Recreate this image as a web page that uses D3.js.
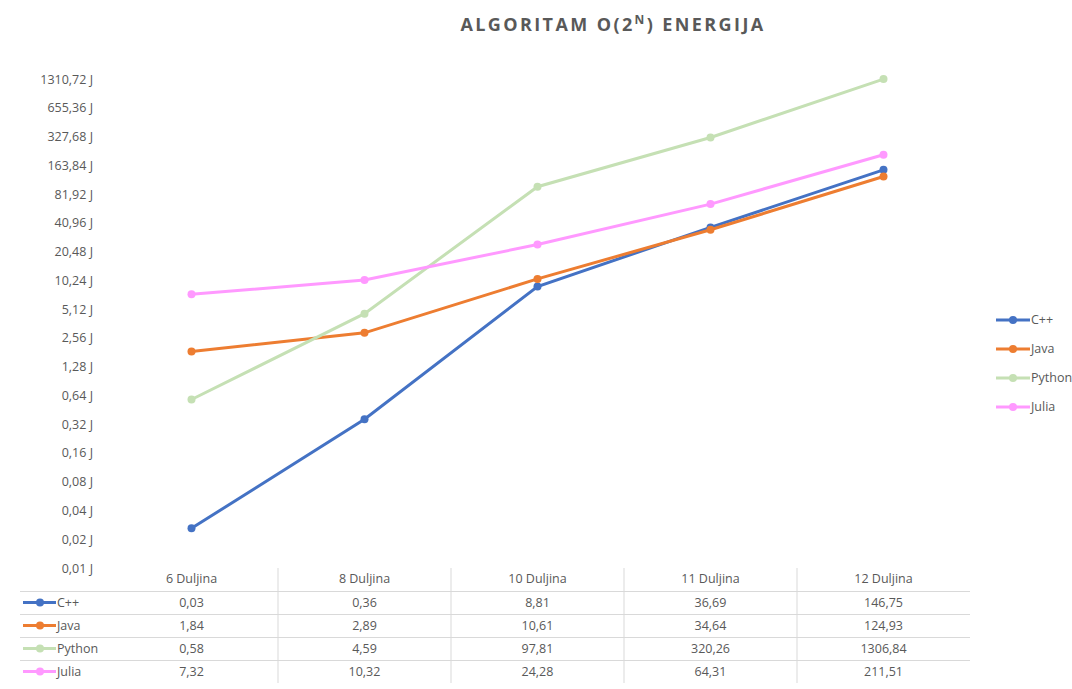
<!DOCTYPE html>
<html>
<head>
<meta charset="utf-8">
<script src="https://cdn.jsdelivr.net/npm/d3@7"></script>
<style>
  body { margin: 0; background: #fff; }
  text { font-family: "Open Sans", sans-serif; fill: #595959; }
</style>
</head>
<body>
<script>
// data
var categories = ["6 Duljina", "8 Duljina", "10 Duljina", "11 Duljina", "12 Duljina"];
var seriesNames = ["C++", "Java", "Python", "Julia"];
var cpp    = [0.026, 0.36, 8.81, 36.69, 146.75];
var java   = [1.84, 2.89, 10.61, 34.64, 124.93];
var python = [0.58, 4.59, 97.81, 320.26, 1306.84];
var julia  = [7.32, 10.32, 24.28, 64.31, 211.51];
var colors = ["#4472C4", "#ED7D31", "#C5E0B4", "#FF99FF"];
var yTicks = [0.01, 0.02, 0.04, 0.08, 0.16, 0.32, 0.64, 1.28, 2.56, 5.12, 10.24,
              20.48, 40.96, 81.92, 163.84, 327.68, 655.36, 1310.72];

var series = seriesNames.map(function(name, i) {
    return {name: name, values: [cpp, java, python, julia][i], color: colors[i]};
});

var width = 1072, height = 689;
var plot = {left: 105, right: 970, top: 79, bottom: 568};

var svg = d3.select("body").append("svg")
    .attr("width", width)
    .attr("height", height);

var fmt = function(v) { return v.toFixed(2).replace(".", ","); };

// title
var title = svg.append("text")
    .attr("x", 613).attr("y", 31)
    .attr("text-anchor", "middle")
    .style("font-size", "18px")
    .style("font-weight", "bold")
    .style("letter-spacing", "2.4px");
title.append("tspan").text("ALGORITAM O(2");
title.append("tspan").text("N").attr("dy", -7).style("font-size", "12px");
title.append("tspan").text(") ENERGIJA").attr("dy", 7);

// scales
var x = d3.scaleBand().domain(categories).range([plot.left, plot.right]);
var y = d3.scaleLog().base(2).domain([0.01, 1310.72]).range([plot.bottom, plot.top]);

// y axis labels
var yAxis = d3.axisLeft(y).tickValues(yTicks)
    .tickFormat(function(d) { return fmt(d) + " J"; })
    .tickSize(0).tickPadding(0);
svg.append("g")
    .attr("transform", "translate(93,0)")
    .call(yAxis)
    .call(function(g) { g.select(".domain").remove(); })
    .selectAll("text")
    .style("font-size", "12.5px")
    .style("font-family", "'Open Sans', sans-serif")
    .attr("fill", "#595959");

// lines
var line = d3.line()
    .x(function(d, i) { return x(categories[i]) + x.bandwidth() / 2; })
    .y(function(d) { return y(d); });

var g = svg.selectAll(".series").data(series).enter().append("g").attr("class", "series");
g.append("path")
    .attr("d", function(d) { return line(d.values); })
    .attr("fill", "none")
    .attr("stroke", function(d) { return d.color; })
    .attr("stroke-width", 3);
g.selectAll("circle")
    .data(function(d) { return d.values.map(function(v) { return {v: v, c: d.color}; }); })
    .enter().append("circle")
    .attr("cx", function(d, i) { return x(categories[i]) + x.bandwidth() / 2; })
    .attr("cy", function(d) { return y(d.v); })
    .attr("r", 4)
    .attr("fill", function(d) { return d.c; });

// legend on right
var legend = svg.selectAll(".legend").data(series).enter().append("g")
    .attr("transform", function(d, i) { return "translate(996," + (320 + i * 29) + ")"; });
legend.append("line").attr("x1", 0).attr("x2", 34)
    .attr("stroke", function(d) { return d.color; }).attr("stroke-width", 3);
legend.append("circle").attr("cx", 17).attr("r", 4).attr("fill", function(d) { return d.color; });
legend.append("text").attr("x", 35).attr("dy", "0.35em")
    .style("font-size", "12.5px").text(function(d) { return d.name; });

// data table
var rowH = 23, tableTop = 568;
var table = svg.append("g");
x.domain().forEach(function(c, i) {
    if (i > 0) {
        table.append("line")
            .attr("x1", x(c)).attr("x2", x(c))
            .attr("y1", tableTop).attr("y2", tableTop + rowH * 5)
            .attr("stroke", "#d9d9d9");
    }
    table.append("text")
        .attr("x", x(c) + x.bandwidth() / 2).attr("y", tableTop + 11)
        .attr("dy", "0.35em").attr("text-anchor", "middle")
        .style("font-size", "12.5px").text(c);
});
for (var r = 1; r <= 4; r++) {
    table.append("line")
        .attr("x1", 20).attr("x2", plot.right)
        .attr("y1", tableTop + rowH * r + 0.5).attr("y2", tableTop + rowH * r + 0.5)
        .attr("stroke", "#d9d9d9");
}
series.forEach(function(s, r) {
    var cy = tableTop + rowH * (r + 1) + 11.5;
    table.append("line").attr("x1", 23).attr("x2", 56).attr("y1", cy).attr("y2", cy)
        .attr("stroke", s.color).attr("stroke-width", 3);
    table.append("circle").attr("cx", 40).attr("cy", cy).attr("r", 4).attr("fill", s.color);
    table.append("text").attr("x", 57).attr("y", cy).attr("dy", "0.35em")
        .style("font-size", "12.5px").text(s.name);
    s.values.forEach(function(v, i) {
        table.append("text")
            .attr("x", x(categories[i]) + x.bandwidth() / 2).attr("y", cy)
            .attr("dy", "0.35em").attr("text-anchor", "middle")
            .style("font-size", "12.5px").text(fmt(v));
    });
});
</script>
</body>
</html>
